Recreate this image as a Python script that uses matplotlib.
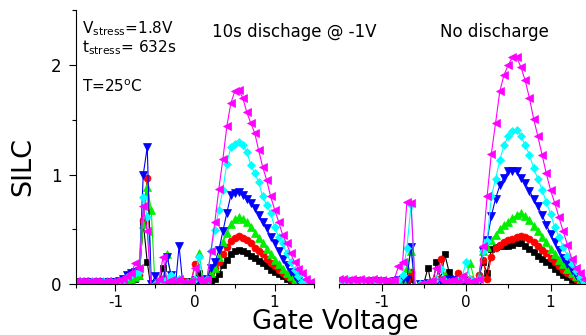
import numpy as np
import matplotlib
matplotlib.use("Agg")
import matplotlib.pyplot as plt
from matplotlib.ticker import MultipleLocator

plt.rcParams["axes.unicode_minus"] = False

# gate voltage sweep, 50 mV steps
volts = np.round(np.linspace(-1.5, 1.5, 61), 2)

# SILC after 10s discharge @ -1V
dis_black = [0.02, 0.02, 0.03, 0.02, 0.02, 0.02, 0.02, 0.03, 0.02, 0.02, 0.02,
             0.02, 0.03, 0.03, 0.04, 0.05, 0.07, 0.56, 0.20, -0.05, 0.00,
             0.02, 0.15, 0.00, 0.05, 0.02, 0.03, 0.02, 0.03, 0.02, 0.05,
             0.10, 0.02, 0.00, 0.03, 0.05, 0.09, 0.17, 0.22, 0.27, 0.30,
             0.31, 0.30, 0.28, 0.26, 0.24, 0.21, 0.19, 0.16, 0.13, 0.11,
             0.09, 0.07, 0.05, 0.03, 0.02, 0.01, 0.01, 0.00, 0.00, 0.00]
dis_red = [0.02, 0.02, 0.02, 0.03, 0.02, 0.02, 0.02, 0.02, 0.03, 0.02, 0.02,
           0.02, 0.03, 0.04, 0.05, 0.06, 0.08, 0.58, 0.97, -0.05, 0.00,
           0.01, 0.05, 0.02, 0.04, 0.01, 0.02, 0.03, 0.01, 0.02, 0.18,
           0.03, 0.02, 0.05, 0.10, 0.15, 0.20, 0.27, 0.34, 0.39, 0.42,
           0.44, 0.42, 0.40, 0.37, 0.33, 0.30, 0.27, 0.23, 0.19, 0.16,
           0.13, 0.10, 0.07, 0.05, 0.03, 0.01, 0.01, 0.00, 0.00, 0.00]
dis_green = [0.02, 0.02, 0.02, 0.02, 0.03, 0.02, 0.02, 0.02, 0.02, 0.03, 0.02,
             0.02, 0.03, 0.04, 0.05, 0.06, 0.08, 0.55, 0.89, 0.68, -0.05,
             0.02, 0.05, 0.27, 0.05, 0.03, 0.05, -0.02, 0.02, 0.03, 0.05,
             0.28, 0.05, 0.03, 0.10, 0.15, 0.25, 0.38, 0.47, 0.55, 0.59,
             0.61, 0.59, 0.57, 0.52, 0.47, 0.42, 0.37, 0.32, 0.27, 0.22,
             0.18, 0.14, 0.10, 0.07, 0.04, 0.02, 0.01, 0.00, 0.00, 0.00]
dis_blue = [0.02, 0.02, 0.02, 0.02, 0.02, 0.02, 0.02, 0.02, 0.02, 0.02, 0.02,
            0.03, 0.05, 0.08, 0.10, 0.11, 0.12, 1.00, 1.25, 0.00, 0.07,
            -0.05, 0.02, 0.25, 0.08, -0.05, 0.35, -0.03, 0.01, 0.00, -0.03,
            0.02, 0.00, 0.05, 0.15, 0.20, 0.31, 0.48, 0.65, 0.81, 0.83,
            0.84, 0.81, 0.78, 0.74, 0.69, 0.63, 0.57, 0.51, 0.43, 0.37,
            0.30, 0.23, 0.17, 0.11, 0.07, 0.03, 0.01, 0.00, 0.00, 0.00]
dis_cyan = [0.02, 0.03, 0.02, 0.02, 0.03, 0.02, 0.02, 0.03, 0.02, 0.02, 0.02,
            0.03, 0.04, 0.06, 0.08, 0.10, 0.11, 0.79, 0.61, -0.05, 0.00,
            0.02, 0.03, 0.05, 0.08, 0.02, 0.05, 0.01, 0.02, 0.02, 0.05,
            0.25, 0.02, 0.05, 0.30, 0.49, 0.68, 0.86, 1.10, 1.25, 1.28,
            1.30, 1.27, 1.21, 1.09, 1.01, 0.93, 0.80, 0.72, 0.65, 0.52,
            0.43, 0.37, 0.28, 0.20, 0.13, 0.07, 0.02, 0.01, 0.00, 0.00]
dis_magenta = [0.03, 0.03, 0.03, 0.02, 0.03, 0.03, 0.02, 0.02, 0.03, 0.02, 0.03,
               0.04, 0.05, 0.07, 0.10, 0.19, 0.15, 0.71, 0.48, -0.05, 0.00,
               0.05, 0.25, 0.02, 0.04, 0.01, 0.05, 0.02, 0.01, 0.03, 0.15,
               0.05, 0.02, 0.05, 0.30, 0.57, 0.87, 1.14, 1.44, 1.65, 1.76,
               1.77, 1.70, 1.57, 1.47, 1.38, 1.22, 1.07, 0.95, 0.80, 0.68,
               0.57, 0.45, 0.37, 0.28, 0.20, 0.14, 0.10, 0.05, 0.02, 0.00]

# SILC with no discharge
nod_black = [0.02, 0.02, 0.02, 0.03, 0.02, 0.02, 0.02, 0.02, 0.03, 0.02, 0.02,
             0.02, 0.02, 0.02, 0.02, 0.03, 0.03, 0.05, -0.05, 0.00, 0.00,
             0.15, -0.05, 0.20, 0.05, 0.27, 0.11, 0.02, 0.03, 0.05, 0.02,
             0.03, 0.01, 0.05, 0.20, 0.10, 0.32, 0.34, 0.35, 0.35, 0.35,
             0.36, 0.37, 0.37, 0.35, 0.32, 0.29, 0.26, 0.23, 0.20, 0.17,
             0.14, 0.11, 0.08, 0.06, 0.04, 0.03, 0.02, 0.01, 0.00, 0.00]
nod_red = [0.02, 0.02, 0.03, 0.02, 0.02, 0.02, 0.02, 0.03, 0.02, 0.02, 0.02,
           0.02, 0.02, 0.02, 0.02, 0.03, 0.04, 0.11, -0.05, 0.00, 0.00,
           0.01, 0.02, 0.05, 0.23, 0.05, 0.02, 0.03, 0.10, 0.05, 0.02,
           0.05, 0.02, 0.08, 0.22, 0.05, 0.25, 0.33, 0.36, 0.38, 0.40,
           0.41, 0.43, 0.44, 0.43, 0.41, 0.38, 0.35, 0.31, 0.28, 0.24,
           0.20, 0.16, 0.13, 0.10, 0.07, 0.05, 0.03, 0.01, 0.00, 0.00]
nod_green = [0.02, 0.02, 0.02, 0.02, 0.03, 0.02, 0.02, 0.02, 0.02, 0.02, 0.02,
             0.02, 0.02, 0.03, 0.03, 0.05, 0.15, 0.30, -0.05, 0.00, 0.00,
             0.01, 0.02, 0.03, 0.05, 0.08, 0.02, 0.01, 0.02, 0.05, 0.06,
             0.19, 0.03, 0.07, 0.30, 0.34, 0.40, 0.45, 0.50, 0.54, 0.57,
             0.60, 0.63, 0.65, 0.62, 0.58, 0.53, 0.48, 0.43, 0.38, 0.32,
             0.27, 0.22, 0.18, 0.14, 0.10, 0.07, 0.04, 0.02, 0.00, 0.00]
nod_blue = [0.03, 0.03, 0.03, 0.02, 0.03, 0.03, 0.03, 0.02, 0.03, 0.03, 0.03,
            0.02, 0.02, 0.03, 0.04, 0.05, 0.05, 0.34, -0.05, 0.00, 0.00,
            0.01, 0.00, 0.02, 0.03, 0.01, 0.05, 0.04, 0.02, 0.01, 0.03,
            0.02, 0.01, 0.02, 0.30, 0.40, 0.62, 0.78, 0.90, 0.97, 1.03,
            1.03, 1.03, 0.97, 0.92, 0.85, 0.78, 0.71, 0.63, 0.54, 0.46,
            0.38, 0.31, 0.24, 0.18, 0.13, 0.08, 0.05, 0.02, 0.00, 0.00]
nod_cyan = [0.03, 0.03, 0.04, 0.03, 0.03, 0.03, 0.04, 0.03, 0.03, 0.03, 0.03,
            0.02, 0.03, 0.03, 0.04, 0.08, 0.33, 0.72, -0.05, 0.00, 0.00,
            0.01, 0.02, 0.05, 0.14, 0.03, 0.02, 0.01, 0.02, 0.05, 0.20,
            0.05, 0.02, 0.05, 0.30, 0.39, 0.80, 0.96, 1.13, 1.27, 1.35,
            1.40, 1.41, 1.35, 1.27, 1.18, 1.06, 0.96, 0.86, 0.75, 0.64,
            0.52, 0.43, 0.34, 0.26, 0.18, 0.12, 0.06, 0.02, 0.00, 0.00]
nod_magenta = [0.05, 0.05, 0.04, 0.05, 0.04, 0.05, 0.04, 0.04, 0.05, 0.04, 0.04,
               0.03, 0.03, 0.04, 0.16, 0.20, 0.75, 0.74, -0.05, 0.00, 0.00,
               0.02, 0.03, 0.15, 0.05, 0.02, 0.03, 0.04, 0.02, 0.07, 0.03,
               0.02, 0.03, 0.05, 0.35, 0.80, 1.19, 1.47, 1.76, 1.91, 2.00,
               2.07, 2.07, 1.98, 1.86, 1.70, 1.51, 1.35, 1.18, 1.01, 0.86,
               0.74, 0.61, 0.48, 0.36, 0.23, 0.15, 0.10, 0.05, 0.02, 0.00]

dis_series = [dis_black, dis_red, dis_green, dis_blue, dis_cyan, dis_magenta]
nod_series = [nod_black, nod_red, nod_green, nod_blue, nod_cyan, nod_magenta]

colors = ["#000000", "#ff0000", "#00ee00", "#0000ff", "#00ffff", "#ff00ff"]
markers = ["s", "o", "^", "v", "D", "<"]
sizes = [5, 5, 5.5, 5.5, 4.5, 5.5]

W, H = 586, 335
fig = plt.figure(figsize=(W / 100, H / 100), dpi=100)

# axes placed in pixel coordinates of the original picture
ax1 = fig.add_axes([75.6 / W, (H - 284) / H, (314.4 - 75.6) / W, 273.75 / H])
ax2 = fig.add_axes([339.25 / W, (H - 284) / H, (592.75 - 339.25) / W, 273.75 / H])


def draw_panel(ax, series):
    for ys, c, m, s in zip(series, colors, markers, sizes):
        ax.plot(volts, ys, color=c, marker=m, ms=s, mec=c, mew=0.5, lw=0.8)
    ax.set_xlim(-1.5, 1.5)
    ax.set_ylim(0, 2.5)
    ax.spines["top"].set_visible(False)
    ax.spines["right"].set_visible(False)
    ax.xaxis.set_major_locator(MultipleLocator(1))
    ax.xaxis.set_minor_locator(MultipleLocator(0.5))
    ax.yaxis.set_major_locator(MultipleLocator(1))
    ax.yaxis.set_minor_locator(MultipleLocator(0.5))
    ax.tick_params(which="major", direction="out", length=5, width=0.8,
                   labelsize=11, pad=3)
    ax.tick_params(which="minor", direction="out", length=3, width=0.8)
    ax.patch.set_alpha(0)


draw_panel(ax1, dis_series)
draw_panel(ax2, nod_series)
ax1.tick_params(axis="y", labelsize=12, pad=5)
ax2.spines["left"].set_visible(False)
ax2.tick_params(axis="y", which="both", left=False, labelleft=False)


def px(x, y):
    return x / W, 1 - y / H


fig.text(*px(23, 167), "SILC", rotation=90, fontsize=19.5,
         ha="center", va="center")
fig.text(*px(335, 329), "Gate Voltage", fontsize=18.5, ha="center",
         va="baseline")
fig.text(*px(82, 33), r"V$_\mathregular{stress}$=1.8V", fontsize=11,
         va="baseline")
fig.text(*px(82, 52), r"t$_\mathregular{stress}$= 632s", fontsize=11,
         va="baseline")
fig.text(*px(82, 92), r"T=25$^\mathregular{o}$C", fontsize=11,
         va="baseline")
fig.text(*px(212, 37), "10s dischage @ -1V", fontsize=12, va="baseline")
fig.text(*px(440, 37), "No discharge", fontsize=12, va="baseline")

fig.savefig("out.png", dpi=100)
